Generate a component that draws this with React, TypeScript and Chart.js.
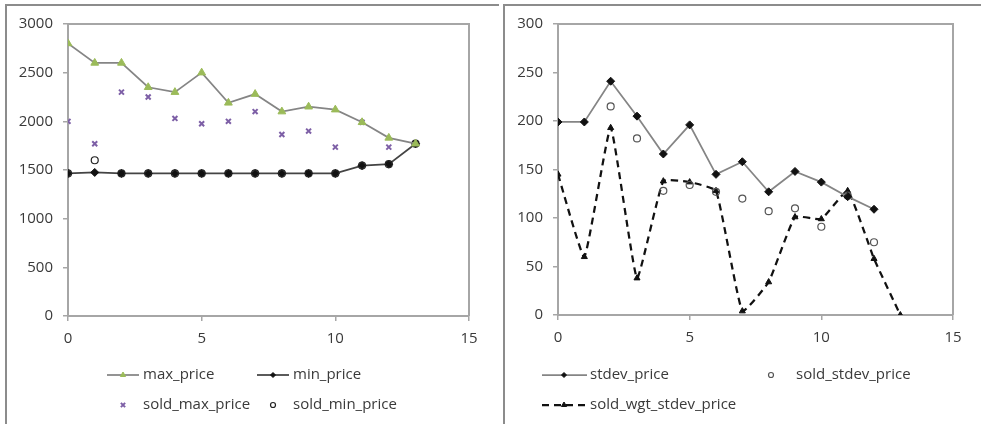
import React, { useEffect, useRef } from "react";
import { Chart, registerables } from "chart.js";
import { drawPoint } from "chart.js/helpers";

Chart.register(...registerables);

// ---------- data ----------
const xValues = [0, 1, 2, 3, 4, 5, 6, 7, 8, 9, 10, 11, 12, 13];

const maxPrice = [2800, 2600, 2600, 2350, 2300, 2500, 2190, 2280, 2100, 2150, 2120, 1990, 1830, 1770];
const minPrice = [1465, 1475, 1465, 1465, 1465, 1465, 1465, 1465, 1465, 1465, 1465, 1545, 1560, 1770];
const soldMaxPrice = [2000, 1770, 2300, 2250, 2030, 1975, 2000, 2100, 1865, 1900, 1735, 1990, 1735, 1770];
const soldMinPrice = [1465, 1600, 1465, 1465, 1465, 1465, 1465, 1465, 1465, 1465, 1465, 1545, 1560, 1770];

const stdevPrice = [199, 199, 241, 205, 166, 196, 145, 158, 127, 148, 137, 122, 109, null];
const soldStdevPrice = [null, null, 215, 182, 128, 134, 127, 120, 107, 110, 91, 123, 75, null];
const soldWgtStdevPrice = [145, 60, 193, 38, 138, 137, 128, 4, 34, 101, 99, 128, 58, 0];

const leftYTicks = { min: 0, max: 3000, step: 500 };
const rightYTicks = { min: 0, max: 300, step: 50 };
const xTicks = { min: 0, max: 15, step: 5 };

// ---------- styling ----------
const FONT = { family: "'Open Sans', sans-serif", size: 15 };
const TEXT = "#3a3a3a";
const AXIS = "#a6a6a6";
const LINE_GRAY = "#858585";

const pts = (arr: (number | null)[]) => xValues.map((x, i) => ({ x, y: arr[i] }));

const framePlugin = {
  id: "frame",
  beforeDatasetsDraw(chart: any) {
    const { ctx, chartArea: a } = chart;
    ctx.save();
    ctx.strokeStyle = AXIS;
    ctx.lineWidth = 2;
    ctx.beginPath();
    ctx.moveTo(a.left, a.top);
    ctx.lineTo(a.right, a.top);
    ctx.lineTo(a.right, a.bottom);
    ctx.stroke();
    ctx.restore();
  },
};

const legendPlugin = {
  id: "xlLegend",
  afterDraw(chart: any, _args: any, opts: any) {
    const items = opts.items || [];
    const { ctx } = chart;
    ctx.save();
    for (const it of items) {
      const ds = chart.data.datasets[it.ds];
      if (it.line) {
        ctx.save();
        ctx.strokeStyle = ds.borderColor;
        ctx.lineWidth = ds.borderWidth;
        ctx.setLineDash(ds.borderDash || []);
        ctx.beginPath();
        ctx.moveTo(it.line[0], it.y);
        ctx.lineTo(it.line[1], it.y);
        ctx.stroke();
        ctx.restore();
      }
      ctx.save();
      ctx.fillStyle = ds.pointBackgroundColor;
      ctx.strokeStyle = ds.pointBorderColor;
      ctx.lineWidth = ds.pointBorderWidth;
      drawPoint(
        ctx,
        { pointStyle: ds.pointStyle, radius: it.r, rotation: 0, borderWidth: ds.pointBorderWidth },
        it.mx,
        it.y
      );
      ctx.restore();
      ctx.fillStyle = TEXT;
      ctx.font = `${FONT.size}px ${FONT.family}`;
      ctx.textBaseline = "middle";
      ctx.textAlign = "left";
      ctx.fillText(ds.label, it.tx, it.y);
    }
    ctx.restore();
  },
};

function makeScales(yt: any, yWidth: number, xHeight: number) {
  const grid = { drawOnChartArea: false, drawTicks: true, tickLength: 5, color: AXIS, lineWidth: 1.5 };
  const border = { color: AXIS, width: 2 };
  return {
    x: {
      type: "linear",
      min: xTicks.min,
      max: xTicks.max,
      ticks: { stepSize: xTicks.step, color: TEXT, font: FONT, padding: 9, maxRotation: 0, callback: (v: any) => String(v) },
      grid,
      border,
      afterFit: (s: any) => {
        s.height = xHeight;
      },
    },
    y: {
      min: yt.min,
      max: yt.max,
      ticks: { stepSize: yt.step, color: TEXT, font: FONT, padding: 10, callback: (v: any) => String(v) },
      grid,
      border,
      afterFit: (s: any) => {
        s.width = yWidth;
      },
    },
  };
}

function ChartCanvas({ config, style, width, height }: any) {
  const ref = useRef<HTMLCanvasElement>(null);
  useEffect(() => {
    const chart = new Chart(ref.current as HTMLCanvasElement, config);
    return () => chart.destroy();
  }, []);
  return <canvas ref={ref} width={width} height={height} style={{ position: "absolute", ...style, width, height }} />;
}

const leftConfig: any = {
  type: "line",
  data: {
    datasets: [
      {
        label: "max_price",
        data: pts(maxPrice),
        borderColor: LINE_GRAY,
        borderWidth: 1.75,
        pointStyle: "triangle",
        pointRadius: 4.5,
        pointBackgroundColor: "#9bbb59",
        pointBorderColor: "#9bbb59",
        pointBorderWidth: 1,
      },
      {
        label: "sold_min_price",
        data: pts(soldMinPrice),
        showLine: false,
        pointStyle: "circle",
        pointRadius: 3.5,
        pointBackgroundColor: "rgba(255,255,255,0)",
        pointBorderColor: "#222",
        pointBorderWidth: 1.2,
      },
      {
        label: "min_price",
        data: pts(minPrice),
        borderColor: "#444",
        borderWidth: 1.75,
        pointStyle: "rectRot",
        pointRadius: 4,
        pointBackgroundColor: "#111",
        pointBorderColor: "#111",
        pointBorderWidth: 1,
      },
      {
        label: "sold_max_price",
        data: pts(soldMaxPrice),
        showLine: false,
        pointStyle: "crossRot",
        pointRadius: 3.5,
        pointBackgroundColor: "#7d5fa6",
        pointBorderColor: "#7d5fa6",
        pointBorderWidth: 2,
      },
    ],
  },
  options: {
    responsive: false,
    animation: false,
    events: [],
    layout: { padding: { left: 0, right: 21, top: 24, bottom: 0 } },
    scales: makeScales(leftYTicks, 68, 108),
    plugins: {
      legend: { display: false },
      tooltip: { enabled: false },
      xlLegend: {
        items: [
          { ds: 0, line: [107, 139], mx: 123, tx: 143, y: 375, r: 3 },
          { ds: 2, line: [257, 289], mx: 273, tx: 293, y: 375, r: 2.5 },
          { ds: 3, mx: 123, tx: 143, y: 405, r: 3 },
          { ds: 1, mx: 273, tx: 293, y: 405, r: 2.5 },
        ],
      },
    },
  },
  plugins: [framePlugin, legendPlugin],
};

const rightConfig: any = {
  type: "line",
  data: {
    datasets: [
      {
        label: "stdev_price",
        data: pts(stdevPrice),
        borderColor: LINE_GRAY,
        borderWidth: 1.75,
        pointStyle: "rectRot",
        pointRadius: 4,
        pointBackgroundColor: "#111",
        pointBorderColor: "#111",
        pointBorderWidth: 1,
      },
      {
        label: "sold_stdev_price",
        data: pts(soldStdevPrice),
        showLine: false,
        pointStyle: "circle",
        pointRadius: 3.5,
        pointBackgroundColor: "rgba(255,255,255,0)",
        pointBorderColor: "#555",
        pointBorderWidth: 1.2,
      },
      {
        label: "sold_wgt_stdev_price",
        data: pts(soldWgtStdevPrice),
        borderColor: "#111",
        borderWidth: 2.25,
        borderDash: [7, 5],
        tension: 0.12,
        pointStyle: "triangle",
        pointRadius: 3.5,
        pointBackgroundColor: "#111",
        pointBorderColor: "#111",
        pointBorderWidth: 1,
      },
    ],
  },
  options: {
    responsive: false,
    animation: false,
    events: [],
    layout: { padding: { left: 0, right: 28, top: 24, bottom: 0 } },
    scales: makeScales(rightYTicks, 68, 109),
    plugins: {
      legend: { display: false },
      tooltip: { enabled: false },
      xlLegend: {
        items: [
          { ds: 0, line: [52, 97], mx: 74, tx: 100, y: 375, r: 2.5 },
          { ds: 1, mx: 281, tx: 306, y: 375, r: 2.5 },
          { ds: 2, line: [52, 97], mx: 74, tx: 100, y: 405, r: 3 },
        ],
      },
    },
  },
  plugins: [framePlugin, legendPlugin],
};

export default function App() {
  return (
    <div
      style={{
        position: "fixed",
        left: 0,
        top: 0,
        width: 981,
        height: 424,
        overflow: "hidden",
        background: "#fff",
      }}
    >
      <div
        style={{
          position: "absolute",
          left: 5,
          top: 4,
          width: 492,
          height: 440,
          borderLeft: "2px solid #8c8c8c",
          borderTop: "2px solid #8c8c8c",
        }}
      />
      <div
        style={{
          position: "absolute",
          left: 503,
          top: 4,
          width: 500,
          height: 440,
          borderLeft: "2px solid #8c8c8c",
          borderTop: "2px solid #8c8c8c",
        }}
      />
      <ChartCanvas config={leftConfig} width={490} height={424} style={{ left: 0, top: 0 }} />
      <ChartCanvas config={rightConfig} width={491} height={424} style={{ left: 490, top: 0 }} />
    </div>
  );
}
